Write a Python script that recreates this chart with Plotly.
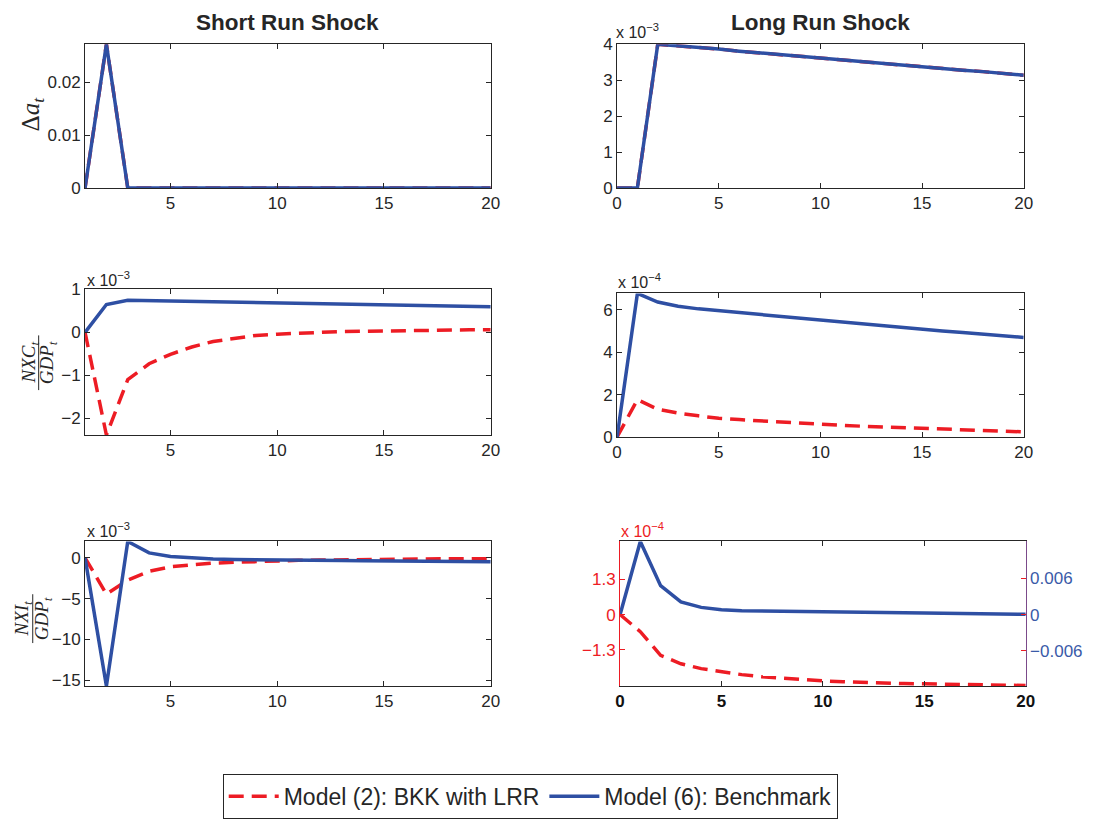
import plotly.graph_objects as go

# ---------------- data ----------------
periods_sr = list(range(1, 21))   # short-run panels: t = 1..20
periods_lr = list(range(0, 21))   # long-run panels:  t = 0..20

# Row 1: Delta a_t
da_sr_bkk   = [0, 0.0272, 0, 0, 0, 0, 0, 0, 0, 0, 0, 0, 0, 0, 0, 0, 0, 0, 0, 0]
da_sr_bench = [0, 0.0272, 0, 0, 0, 0, 0, 0, 0, 0, 0, 0, 0, 0, 0, 0, 0, 0, 0, 0]
# long run, in units of 1e-3
da_lr_bkk   = [0, 0, 4.00, 3.96, 3.91, 3.87, 3.81, 3.76, 3.71, 3.66, 3.61, 3.56, 3.52,
               3.47, 3.43, 3.38, 3.33, 3.28, 3.24, 3.19, 3.14]
da_lr_bench = [0, 0, 4.00, 3.96, 3.91, 3.87, 3.81, 3.76, 3.71, 3.66, 3.61, 3.56, 3.52,
               3.47, 3.43, 3.38, 3.33, 3.28, 3.24, 3.19, 3.14]

# Row 2: NXC/GDP  (short run in 1e-3, long run in 1e-4)
nxc_sr_bkk   = [0, -2.39, -1.10, -0.73, -0.51, -0.34, -0.21, -0.13, -0.07, -0.04, -0.01,
                0.0, 0.02, 0.03, 0.03, 0.04, 0.05, 0.05, 0.06, 0.06]
nxc_sr_bench = [0, 0.65, 0.75, 0.74, 0.73, 0.72, 0.71, 0.70, 0.69, 0.68, 0.67, 0.67,
                0.66, 0.65, 0.64, 0.63, 0.63, 0.62, 0.61, 0.60]
nxc_lr_bkk   = [0, 1.76, 1.31, 1.13, 1.00, 0.88, 0.82, 0.76, 0.70, 0.65, 0.59, 0.55,
                0.51, 0.48, 0.44, 0.41, 0.38, 0.34, 0.31, 0.27, 0.24]
nxc_lr_bench = [0, 6.78, 6.37, 6.17, 6.05, 5.96, 5.87, 5.78, 5.70, 5.61, 5.52, 5.43,
                5.34, 5.25, 5.17, 5.08, 5.00, 4.93, 4.85, 4.78, 4.70]

# Row 3: NXI/GDP  (short run in 1e-3; long run BKK in 1e-4 on left axis, benchmark raw on right axis)
nxi_sr_bkk   = [0, -4.44, -2.72, -1.65, -1.10, -0.85, -0.65, -0.55, -0.45, -0.37, -0.31,
                -0.27, -0.23, -0.20, -0.18, -0.16, -0.14, -0.12, -0.11, -0.10]
nxi_sr_bench = [0, -15.7, 2.0, 0.6, 0.15, -0.05, -0.15, -0.20, -0.25, -0.28, -0.30,
                -0.32, -0.34, -0.36, -0.38, -0.40, -0.42, -0.44, -0.46, -0.48]
nxi_lr_bkk   = [0, -0.63, -1.50, -1.81, -1.99, -2.11, -2.21, -2.29, -2.35, -2.40, -2.44,
                -2.47, -2.50, -2.52, -2.54, -2.55, -2.57, -2.58, -2.59, -2.60, -2.61]
nxi_lr_bench = [0, 0.0121, 0.0048, 0.0021, 0.0012, 0.0008, 0.00064, 0.00058, 0.00053,
                0.00048, 0.00043, 0.00040, 0.00037, 0.00033, 0.00030, 0.00027, 0.00023,
                0.00019, 0.00014, 0.00010, 0.00005]

series_names = ["Model (2): BKK with LRR", "Model (6): Benchmark"]
col_titles = ["Short Run Shock", "Long Run Shock"]

# ---------------- style ----------------
PAGE_W, PAGE_H = 1097, 831
BODY_MARGIN = 8                      # default page margin around the figure
W, H = PAGE_W - 2 * BODY_MARGIN, PAGE_H - 2 * BODY_MARGIN
RED = "#ed1c24"
BLUE = "#2e4fa3"
INK = "#262626"
PURPLE = "#7b4a8a"
FONT = "Liberation Sans, Arial, sans-serif"
SERIF = "Liberation Serif, Times New Roman, serif"
LW = 3.5


def px_x(p):
    return (p - BODY_MARGIN) / W


def px_y(p):
    return 1 - (p - BODY_MARGIN) / H


fig = go.Figure()


def add_pair(xs, red, blue, xa, ya, legend=False, ya_blue=None):
    fig.add_trace(go.Scatter(x=xs, y=red, mode="lines", name=series_names[0],
                             line=dict(color=RED, width=LW, dash="15px,8px"),
                             xaxis=xa, yaxis=ya, showlegend=legend))
    fig.add_trace(go.Scatter(x=xs, y=blue, mode="lines", name=series_names[1],
                             line=dict(color=BLUE, width=LW),
                             xaxis=xa, yaxis=ya_blue or ya, showlegend=legend))


add_pair(periods_sr, da_sr_bkk, da_sr_bench, "x", "y")
add_pair(periods_lr, da_lr_bkk, da_lr_bench, "x2", "y2")
add_pair(periods_sr, nxc_sr_bkk, nxc_sr_bench, "x3", "y3", legend=True)
add_pair(periods_lr, nxc_lr_bkk, nxc_lr_bench, "x4", "y4")
add_pair(periods_sr, nxi_sr_bkk, nxi_sr_bench, "x5", "y5")
add_pair(periods_lr, nxi_lr_bkk, nxi_lr_bench, "x6", "y6", ya_blue="y7")

TICKSIZE = 17


def ax(**kw):
    base = dict(showline=True, linecolor=INK, linewidth=1, mirror="ticks",
                ticks="inside", ticklen=5, tickcolor=INK, showgrid=False,
                zeroline=False, tickfont=dict(family=FONT, size=TICKSIZE, color=INK))
    base.update(kw)
    return base


# domains (page pixels -> paper)
LX = [px_x(81), px_x(492)]
RX = [px_x(620), px_x(1032)]
RX3 = [px_x(623), px_x(1034)]
R1 = [px_y(183), px_y(36)]
R2L = [px_y(436), px_y(287)]
R2R = [px_y(438), px_y(291)]
R3 = [px_y(693), px_y(545)]

sr_ticks = [5, 10, 15, 20]
lr_ticks = [0, 5, 10, 15, 20]

fig.update_layout(
    xaxis=ax(domain=LX, anchor="y", range=[1, 20], tickvals=sr_ticks),
    yaxis=ax(domain=R1, anchor="x", range=[0, 0.0272], tickvals=[0, 0.01, 0.02],
             ticktext=["0", "0.01", "0.02"]),
    xaxis2=ax(domain=RX, anchor="y2", range=[0, 20], tickvals=lr_ticks),
    yaxis2=ax(domain=R1, anchor="x2", range=[0, 4.0], tickvals=[0, 1, 2, 3, 4]),
    xaxis3=ax(domain=LX, anchor="y3", range=[1, 20], tickvals=sr_ticks),
    yaxis3=ax(domain=R2L, anchor="x3", range=[-2.39, 1.0], tickvals=[-2, -1, 0, 1]),
    xaxis4=ax(domain=RX, anchor="y4", range=[0, 20], tickvals=lr_ticks),
    yaxis4=ax(domain=R2R, anchor="x4", range=[0, 6.78], tickvals=[0, 2, 4, 6]),
    xaxis5=ax(domain=LX, anchor="y5", range=[1, 20], tickvals=sr_ticks),
    yaxis5=ax(domain=R3, anchor="x5", range=[-15.7, 2.0], tickvals=[-15, -10, -5, 0]),
    xaxis6=ax(domain=RX3, anchor="y6", range=[0, 20], tickvals=lr_ticks,
              ticktext=["<b>%d</b>" % v for v in lr_ticks],
              tickfont=dict(family=FONT, size=TICKSIZE, color="#111111")),
    yaxis6=ax(domain=R3, anchor="x6", range=[-2.63, 2.69], tickvals=[-1.3, 0, 1.3],
              ticktext=["\u22121.3", "0", "1.3"], mirror=False, linecolor=RED,
              tickcolor=RED, tickfont=dict(family=FONT, size=TICKSIZE, color=RED)),
    yaxis7=ax(overlaying="y6", side="right", anchor="x6", range=[-0.0118, 0.0121],
              tickvals=[-0.006, 0, 0.006], ticktext=["\u22120.006", "0", "0.006"],
              mirror=False, linecolor=PURPLE, tickcolor=RED,
              tickfont=dict(family=FONT, size=TICKSIZE, color="#3a5aa8")),
)

annotations = []
# column titles
for txt, cx in zip(col_titles, [286, 826]):
    annotations.append(dict(text="<b>%s</b>" % txt, x=px_x(cx), y=px_y(14), xref="paper",
                            yref="paper", showarrow=False, xanchor="center", yanchor="middle",
                            font=dict(family=FONT, size=22.5, color=INK)))

# exponent labels
for txt, x0, yc, col in [("x 10<sup>\u22123</sup>", 617, 22, INK),
                         ("x 10<sup>\u22123</sup>", 81, 276, INK),
                         ("x 10<sup>\u22124</sup>", 619, 278, INK),
                         ("x 10<sup>\u22123</sup>", 81, 533, INK),
                         ("x 10<sup>\u22124</sup>", 622, 533, RED)]:
    annotations.append(dict(text=txt, x=px_x(x0), y=px_y(yc), xref="paper", yref="paper",
                            showarrow=False, xanchor="left", yanchor="middle",
                            font=dict(family=FONT, size=16, color=col)))

# y-axis labels
annotations.append(dict(text="\u0394<i>a<sub>t</sub></i>", x=px_x(28), y=px_y(107),
                        xref="paper", yref="paper", showarrow=False, textangle=-90,
                        xanchor="center", yanchor="middle",
                        font=dict(family=SERIF, size=25, color=INK)))

shapes = []
for num, den, xn, xb, xd, yc, half in [("NXC", "GDP", 25, 34, 43, 362, 28),
                                       ("NXI", "GDP", 18, 28, 38, 624, 25)]:
    annotations.append(dict(text="<i>%s<sub>t</sub></i>" % num, x=px_x(xn), y=px_y(yc),
                            xref="paper", yref="paper", showarrow=False, textangle=-90,
                            xanchor="center", yanchor="middle",
                            font=dict(family=SERIF, size=19, color=INK)))
    annotations.append(dict(text="<i>%s<sub>t</sub></i>" % den, x=px_x(xd), y=px_y(yc),
                            xref="paper", yref="paper", showarrow=False, textangle=-90,
                            xanchor="center", yanchor="middle",
                            font=dict(family=SERIF, size=19, color=INK)))
    shapes.append(dict(type="line", xref="paper", yref="paper", x0=px_x(xb), x1=px_x(xb),
                       y0=px_y(yc - half), y1=px_y(yc + half),
                       line=dict(color=INK, width=1)))

fig.update_layout(
    width=W, height=H, autosize=False,
    margin=dict(l=0, r=0, t=0, b=0),
    paper_bgcolor="white", plot_bgcolor="white",
    annotations=annotations, shapes=shapes,
    legend=dict(orientation="h", x=px_x(532), xanchor="center", y=px_y(829),
                yanchor="bottom", bgcolor="white", bordercolor=INK, borderwidth=1,
                font=dict(family=FONT, size=23, color=INK), itemwidth=50),
)

fig.write_html("out.html", config={"displayModeBar": False})
